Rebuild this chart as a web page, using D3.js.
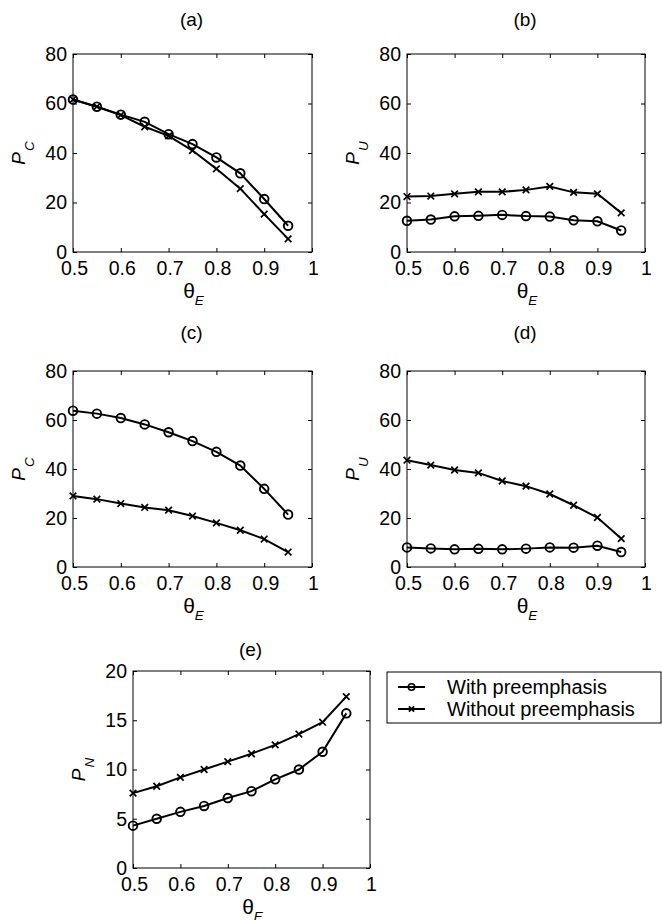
<!DOCTYPE html>
<html>
<head>
<meta charset="utf-8">
<script src="https://cdn.jsdelivr.net/npm/d3@7"></script>
<style>
  body { margin: 0; background: #fff; }
  svg text { font-family: "Liberation Sans", Arial, Helvetica, sans-serif; fill: #000; }
</style>
</head>
<body>
<div id="chart"></div>
<script>
// theta_E values shared by all panels
var thetaE = [0.5, 0.55, 0.6, 0.65, 0.7, 0.75, 0.8, 0.85, 0.9, 0.95];
var xTicks = [0.5, 0.6, 0.7, 0.8, 0.9, 1];

// (a) P_C
var aWith    = [61.6, 58.7, 55.5, 52.6, 47.6, 43.6, 38.2, 31.8, 21.4, 10.6];
var aWithout = [61.6, 58.7, 55.3, 50.6, 46.9, 41.0, 33.6, 25.6, 15.3, 5.3];
// (b) P_U
var bWith    = [12.6, 13.1, 14.4, 14.6, 15.0, 14.5, 14.3, 12.8, 12.4, 8.7];
var bWithout = [22.4, 22.6, 23.5, 24.3, 24.3, 25.1, 26.5, 24.1, 23.5, 15.8];
// (c) P_C
var cWith    = [63.8, 62.6, 60.8, 58.2, 55.0, 51.4, 47.0, 41.4, 31.9, 21.4];
var cWithout = [29.0, 27.7, 25.9, 24.3, 23.2, 20.8, 18.0, 15.0, 11.4, 6.1];
// (d) P_U
var dWith    = [8.0, 7.6, 7.2, 7.4, 7.2, 7.5, 8.0, 7.9, 8.7, 6.1];
var dWithout = [43.6, 41.6, 39.6, 38.4, 35.1, 33.0, 29.8, 25.2, 20.2, 11.6];
// (e) P_N
var eWith    = [4.3, 5.0, 5.7, 6.3, 7.1, 7.8, 9.0, 10.0, 11.8, 15.7];
var eWithout = [7.6, 8.3, 9.2, 10.0, 10.8, 11.6, 12.5, 13.6, 14.8, 17.4];

var yTicks80 = [0, 20, 40, 60, 80];
var yTicks20 = [0, 5, 10, 15, 20];

var legendLabels = ['With preemphasis', 'Without preemphasis'];

var W = 662, H = 920;
var svg = d3.select('#chart').append('svg')
  .attr('width', W).attr('height', H);

var panels = [
  {title:'(a)', titleY:-28, sub:'C', left:73,  top:54,  w:239, h:198, yMax:80, yTicks:yTicks80, withV:aWith, withoutV:aWithout},
  {title:'(b)', titleY:-28, sub:'U', left:407, top:54,  w:238, h:198, yMax:80, yTicks:yTicks80, withV:bWith, withoutV:bWithout},
  {title:'(c)', titleY:-32, sub:'C', left:73,  top:371, w:239, h:196, yMax:80, yTicks:yTicks80, withV:cWith, withoutV:cWithout},
  {title:'(d)', titleY:-32, sub:'U', left:407, top:371, w:238, h:196, yMax:80, yTicks:yTicks80, withV:dWith, withoutV:dWithout},
  {title:'(e)', titleY:-15, sub:'N', left:133, top:671, w:237, h:197, yMax:20, yTicks:yTicks20, withV:eWith, withoutV:eWithout}
];

function drawCross(g, x, y, s){
  g.append('path')
    .attr('d', 'M'+(x-s)+','+(y-s)+'L'+(x+s)+','+(y+s)+'M'+(x-s)+','+(y+s)+'L'+(x+s)+','+(y-s))
    .attr('stroke', '#000').attr('stroke-width', 1.7).attr('fill', 'none');
}

function drawPanel(p){
  var g = svg.append('g').attr('transform', 'translate('+p.left+','+p.top+')');
  var x = d3.scaleLinear().domain([0.5, 1]).range([0, p.w]);
  var y = d3.scaleLinear().domain([0, p.yMax]).range([p.h, 0]);
  var tl = 4;

  // ticks inward on all sides (matlab box)
  var xb = d3.axisBottom(x).tickValues(xTicks).tickSize(-tl).tickPadding(9).tickFormat(d3.format('~g'));
  var xt = d3.axisTop(x).tickValues(xTicks).tickSize(-tl).tickFormat('');
  var yl = d3.axisLeft(y).tickValues(p.yTicks).tickSize(-tl).tickPadding(6);
  var yr = d3.axisRight(y).tickValues(p.yTicks).tickSize(-tl).tickFormat('');

  var gx = g.append('g').attr('transform', 'translate(0,'+p.h+')').call(xb);
  g.append('g').call(xt);
  g.append('g').call(yl);
  g.append('g').attr('transform', 'translate('+p.w+',0)').call(yr);

  g.selectAll('.domain').remove();
  g.selectAll('.tick line').attr('stroke', '#000').attr('stroke-width', 1);
  g.selectAll('.tick text').attr('font-size', 19.5).attr('fill', '#000')
    .style('font-family', '"Liberation Sans", Arial, sans-serif');
  gx.selectAll('.tick text').attr('dx', 1);

  g.append('rect').attr('width', p.w).attr('height', p.h)
    .attr('fill', 'none').attr('stroke', '#000').attr('stroke-width', 1);

  var line = d3.line().x(function(d){ return x(d[0]); }).y(function(d){ return y(d[1]); });
  var withPts = thetaE.map(function(t, i){ return [t, p.withV[i]]; });
  var withoutPts = thetaE.map(function(t, i){ return [t, p.withoutV[i]]; });

  [withoutPts, withPts].forEach(function(pts){
    g.append('path').datum(pts).attr('d', line)
      .attr('fill', 'none').attr('stroke', '#000').attr('stroke-width', 2);
  });
  withoutPts.forEach(function(d){ drawCross(g, x(d[0]), y(d[1]), 3.3); });
  g.selectAll('circle.m').data(withPts).enter().append('circle')
    .attr('class', 'm')
    .attr('cx', function(d){ return x(d[0]); })
    .attr('cy', function(d){ return y(d[1]); })
    .attr('r', 4.3)
    .attr('fill', 'none').attr('stroke', '#000').attr('stroke-width', 1.9);

  // title
  g.append('text').attr('x', p.w/2 - 1).attr('y', p.titleY)
    .attr('text-anchor', 'middle').attr('font-size', 19).text(p.title);

  // x label theta_E
  var xl = g.append('text').attr('x', p.w/2 + 1).attr('y', p.h + 46)
    .attr('text-anchor', 'middle').attr('font-size', 21);
  xl.append('tspan').text('\u03B8');
  xl.append('tspan').attr('font-size', 13.5).attr('font-style', 'italic').attr('dy', 7).text('E');

  // y label P_sub
  var ylab = g.append('text')
    .attr('transform', 'translate(-48,'+(p.h/2)+') rotate(-90)')
    .attr('text-anchor', 'middle').attr('font-size', 19).attr('font-style', 'italic');
  ylab.append('tspan').text('P');
  ylab.append('tspan').attr('font-size', 13.5).attr('dx', 1).attr('dy', 9).text(p.sub);
}

panels.forEach(drawPanel);

// legend
var lg = svg.append('g').attr('transform', 'translate(387,672)');
lg.append('rect').attr('width', 274).attr('height', 51)
  .attr('fill', '#fff').attr('stroke', '#000').attr('stroke-width', 1);
legendLabels.forEach(function(lbl, i){
  var cy = 15 + i * 22;
  lg.append('line').attr('x1', 11).attr('x2', 38).attr('y1', cy).attr('y2', cy)
    .attr('stroke', '#000').attr('stroke-width', 2);
  if (i === 0) {
    lg.append('circle').attr('cx', 24.5).attr('cy', cy).attr('r', 3.2)
      .attr('fill', 'none').attr('stroke', '#000').attr('stroke-width', 1.6);
  } else {
    drawCross(lg, 24.5, cy, 2.6);
  }
  lg.append('text').attr('x', 60).attr('y', cy + 6.5).attr('font-size', 20).text(lbl);
});
</script>
</body>
</html>
